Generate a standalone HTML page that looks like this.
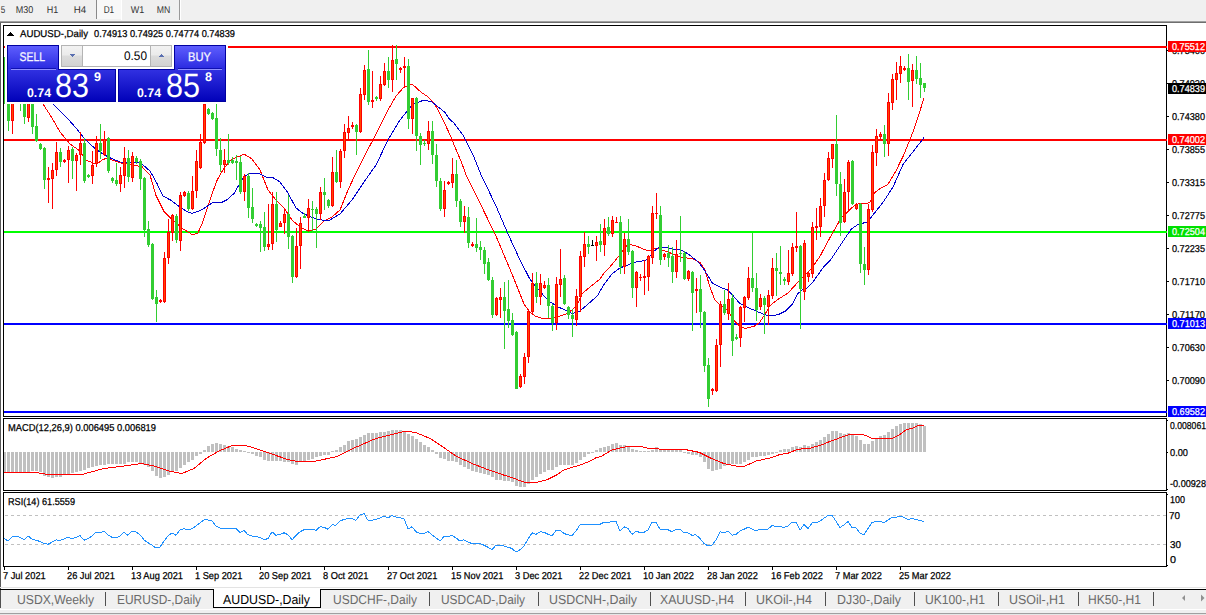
<!DOCTYPE html>
<html><head><meta charset="utf-8"><style>
html,body{margin:0;padding:0;background:#fff;}
body{width:1206px;height:615px;overflow:hidden;}
svg{display:block;font-family:"Liberation Sans", sans-serif;text-rendering:geometricPrecision;}
</style></head><body>
<svg width="1206" height="615" viewBox="0 0 1206 615" shape-rendering="crispEdges">
<rect x="0" y="0" width="1206" height="615" fill="#ffffff"/>
<rect x="0" y="0" width="1206" height="21" fill="#f0f0f0"/>
<rect x="0" y="21" width="1206" height="1" fill="#a0a0a0"/>
<rect x="0" y="22" width="1206" height="1" fill="#6e6e6e"/>
<rect x="97" y="0" width="24" height="19" fill="#f8f8f8"/>
<rect x="121" y="0" width="1" height="20" fill="#ffffff"/>
<rect x="96" y="0" width="1" height="19" fill="#8a8a8a"/>
<rect x="179" y="0" width="1" height="20" fill="#9a9a9a"/>
<rect x="180" y="0" width="1" height="20" fill="#ffffff"/>
<text x="0.7" y="13" font-size="10" fill="#333333" font-weight="normal" text-anchor="start" textLength="4.5" lengthAdjust="spacingAndGlyphs" stroke-width="0">5</text>
<text x="15.7" y="13" font-size="10" fill="#333333" font-weight="normal" text-anchor="start" textLength="17.5" lengthAdjust="spacingAndGlyphs" stroke-width="0">M30</text>
<text x="46.7" y="13" font-size="10" fill="#333333" font-weight="normal" text-anchor="start" textLength="11.5" lengthAdjust="spacingAndGlyphs" stroke-width="0">H1</text>
<text x="73.7" y="13" font-size="10" fill="#333333" font-weight="normal" text-anchor="start" textLength="12.5" lengthAdjust="spacingAndGlyphs" stroke-width="0">H4</text>
<text x="103.7" y="13" font-size="10" fill="#333333" font-weight="normal" text-anchor="start" textLength="10.5" lengthAdjust="spacingAndGlyphs" stroke-width="0">D1</text>
<text x="130.7" y="13" font-size="10" fill="#333333" font-weight="normal" text-anchor="start" textLength="13.5" lengthAdjust="spacingAndGlyphs" stroke-width="0">W1</text>
<text x="156.7" y="13" font-size="10" fill="#333333" font-weight="normal" text-anchor="start" textLength="13.5" lengthAdjust="spacingAndGlyphs" stroke-width="0">MN</text>
<rect x="0" y="23" width="1" height="585" fill="#5a5a5a"/>
<defs><clipPath id="cm"><rect x="4" y="26" width="1162" height="390"/></clipPath><clipPath id="cmacd"><rect x="4" y="419" width="1162" height="71"/></clipPath><clipPath id="crsi"><rect x="4" y="493" width="1162" height="73"/></clipPath><linearGradient id="gsell" x1="0" y1="0" x2="0" y2="1"><stop offset="0" stop-color="#6060ff"/><stop offset="1" stop-color="#2a2ae0"/></linearGradient><linearGradient id="gpan" x1="0" y1="0" x2="0" y2="1"><stop offset="0" stop-color="#3232e2"/><stop offset="1" stop-color="#0000b8"/></linearGradient><linearGradient id="gbtn" x1="0" y1="0" x2="0" y2="1"><stop offset="0" stop-color="#f2f2f2"/><stop offset="0.45" stop-color="#ebebeb"/><stop offset="0.5" stop-color="#dcdcdc"/><stop offset="1" stop-color="#d2d2d2"/></linearGradient></defs>
<g clip-path="url(#cm)">
<rect x="4" y="46" width="1162" height="2" fill="#ff0000"/>
<rect x="4" y="139" width="1162" height="2" fill="#ff0000"/>
<rect x="4" y="231" width="1162" height="2" fill="#00ff00"/>
<rect x="4" y="323" width="1162" height="2" fill="#0000ff"/>
<rect x="4" y="411" width="1162" height="2" fill="#0000ff"/>
<polyline points="43,104 52,118 60,132 70,144 80,151 86,160 93,163 97,164 102,160 107,158 112,160 121,163 135,165.5 142,166.7 150,175 156,195.6 163.9,211.3 171.7,219 182,228.2 192.5,234.7 197.7,233.4 202.9,221.7 208.1,206 213.3,190.4 217.2,180 224,168 232,159 240,156 244,154 252,159 260,170 268,190 276,200 284,208 292,220 300,227 308,231 316,229 324,221 332,217 340,210 348,190 356,173 364,157 376,134 388,110 396,96 404,87 412,84 417,88.5 422,93 427,96 432,101 437.5,108.7 442.4,118.7 450,134.8 455,147.3 461,161 466,174.6 476,195 496,236 512,274 524,304 530,312.2 535,316 542.4,318.4 552.4,318.4 559.9,316 567.3,313.5 572.3,309.7 577.3,304.8 582.2,293.6 589.7,287.3 599.7,279.3 604.6,272.4 609.6,267.4 619.6,255 628,244 636,246 648,251 656,248 668,252 680,257 692.4,258.7 700,262.4 705,270 710,287.3 714.8,299.7 721,305.9 727.3,309.7 733.5,320 738.5,325 744.7,328.6 754.6,326 759.6,322.4 764.6,315 769.6,306 777,300 788,293 800,280 812,268 820,256.3 830.4,236.8 840.8,218.5 851.3,208.1 856.5,204.2 869.5,202.9 874.7,192.5 879.9,188.6 887.7,184.7 895.5,171.7 903.3,156 913.8,130 918,117 924,98" fill="none" stroke="#ff0000" stroke-width="1" stroke-linejoin="round"/>
<polyline points="53,104 60,111 68,119 76,128 84,138 92,146 100,152 108,157 120,162 140,162.4 150,171 157,183.5 163,196 171,200.3 180,207.2 187,211.5 192,213.4 199.5,210.9 207,206.5 212,202.8 222,202.2 227,199.7 234,193.5 239,184.8 244,176 252,173 260,174 268,178 272,177 280,182 288,193 296,208 304,214 316,219 328,221 340,214 352,200 364,182 376,165 388,140 400,120 412,105 424,100 432,102 445,112.4 449,118.7 454,123 463.6,136 473.5,156 481,174.6 496,206 508,234 520,260 530,279.3 537.5,288.6 548.7,301 558.6,307.2 567.3,311 572.3,313.5 579.8,311 587.2,304.8 597.2,296 604.6,283.6 612.1,273.7 619.6,268.1 629.5,264.3 637,261.8 644.4,260.6 648,259 653,252 658,247.8 666,247.2 672,249 679,249.7 684,251.5 689,254.6 698.7,262.4 705,271 712.3,283 722.3,288 727.3,289.8 732.2,294.7 739.7,303.4 747.2,307.2 757.1,311.5 764.6,314.6 771,316 778.3,314.6 785.7,310.9 792,304.7 797,294.7 802,289.8 807,287.9 811.8,283.5 818,274.8 824.3,266.1 830.4,260.2 840.8,244.6 851.3,229 859,223.8 866.9,222.4 872.1,216 882.5,203 892.9,187.3 903.3,163.9 913.8,150.8 924,137.5" fill="none" stroke="#0000cd" stroke-width="1" stroke-linejoin="round"/>
<rect x="4" y="57" width="1" height="47" fill="#32cd32"/>
<rect x="3" y="57" width="3" height="1" fill="#32cd32"/>
<rect x="8" y="70" width="1" height="61" fill="#32cd32"/>
<rect x="7" y="80" width="3" height="41" fill="#32cd32"/>
<rect x="12" y="75" width="1" height="59" fill="#ff0000"/>
<rect x="11" y="85" width="3" height="36" fill="#ff0000"/>
<rect x="12" y="86" width="1" height="34" fill="#ff4500"/>
<rect x="16" y="55" width="1" height="45" fill="#32cd32"/>
<rect x="15" y="60" width="3" height="35" fill="#32cd32"/>
<rect x="20" y="65" width="1" height="46" fill="#32cd32"/>
<rect x="19" y="70" width="3" height="30" fill="#32cd32"/>
<rect x="24" y="85" width="1" height="39" fill="#32cd32"/>
<rect x="23" y="90" width="3" height="27" fill="#32cd32"/>
<rect x="28" y="85" width="1" height="37" fill="#ff0000"/>
<rect x="27" y="90" width="3" height="28" fill="#ff0000"/>
<rect x="28" y="91" width="1" height="26" fill="#ff4500"/>
<rect x="32" y="90" width="1" height="44" fill="#32cd32"/>
<rect x="31" y="95" width="3" height="32" fill="#32cd32"/>
<rect x="36" y="114" width="1" height="28" fill="#32cd32"/>
<rect x="35" y="126" width="3" height="15" fill="#32cd32"/>
<rect x="40" y="143" width="1" height="7" fill="#32cd32"/>
<rect x="39" y="144" width="3" height="5" fill="#32cd32"/>
<rect x="44" y="147" width="1" height="42" fill="#32cd32"/>
<rect x="43" y="148" width="3" height="32" fill="#32cd32"/>
<rect x="48" y="167" width="1" height="36" fill="#ff0000"/>
<rect x="47" y="178" width="3" height="2" fill="#ff0000"/>
<rect x="52" y="163" width="1" height="46" fill="#ff0000"/>
<rect x="51" y="170" width="3" height="9" fill="#ff0000"/>
<rect x="52" y="171" width="1" height="7" fill="#ff4500"/>
<rect x="56" y="142" width="1" height="34" fill="#ff0000"/>
<rect x="55" y="152" width="3" height="18" fill="#ff0000"/>
<rect x="56" y="153" width="1" height="16" fill="#ff4500"/>
<rect x="60" y="148" width="1" height="19" fill="#32cd32"/>
<rect x="59" y="152" width="3" height="10" fill="#32cd32"/>
<rect x="64" y="159" width="1" height="4" fill="#ff0000"/>
<rect x="63" y="160" width="3" height="2" fill="#ff0000"/>
<rect x="68" y="146" width="1" height="37" fill="#ff0000"/>
<rect x="67" y="150" width="3" height="10" fill="#ff0000"/>
<rect x="68" y="151" width="1" height="8" fill="#ff4500"/>
<rect x="72" y="147" width="1" height="32" fill="#32cd32"/>
<rect x="71" y="149" width="3" height="12" fill="#32cd32"/>
<rect x="76" y="153" width="1" height="38" fill="#ff0000"/>
<rect x="75" y="155" width="3" height="6" fill="#ff0000"/>
<rect x="76" y="156" width="1" height="4" fill="#ff4500"/>
<rect x="80" y="132" width="1" height="33" fill="#ff0000"/>
<rect x="79" y="143" width="3" height="12" fill="#ff0000"/>
<rect x="80" y="144" width="1" height="10" fill="#ff4500"/>
<rect x="84" y="138" width="1" height="45" fill="#32cd32"/>
<rect x="83" y="143" width="3" height="38" fill="#32cd32"/>
<rect x="88" y="174" width="1" height="4" fill="#32cd32"/>
<rect x="87" y="175" width="3" height="2" fill="#32cd32"/>
<rect x="92" y="151" width="1" height="33" fill="#ff0000"/>
<rect x="91" y="165" width="3" height="11" fill="#ff0000"/>
<rect x="92" y="166" width="1" height="9" fill="#ff4500"/>
<rect x="96" y="136" width="1" height="31" fill="#ff0000"/>
<rect x="95" y="143" width="3" height="21" fill="#ff0000"/>
<rect x="96" y="144" width="1" height="19" fill="#ff4500"/>
<rect x="100" y="124" width="1" height="35" fill="#32cd32"/>
<rect x="99" y="143" width="3" height="8" fill="#32cd32"/>
<rect x="104" y="131" width="1" height="25" fill="#ff0000"/>
<rect x="103" y="139" width="3" height="16" fill="#ff0000"/>
<rect x="104" y="140" width="1" height="14" fill="#ff4500"/>
<rect x="108" y="137" width="1" height="36" fill="#32cd32"/>
<rect x="107" y="138" width="3" height="33" fill="#32cd32"/>
<rect x="112" y="177" width="1" height="6" fill="#32cd32"/>
<rect x="111" y="178" width="3" height="3" fill="#32cd32"/>
<rect x="116" y="163" width="1" height="23" fill="#32cd32"/>
<rect x="115" y="180" width="3" height="4" fill="#32cd32"/>
<rect x="120" y="167" width="1" height="25" fill="#ff0000"/>
<rect x="119" y="175" width="3" height="9" fill="#ff0000"/>
<rect x="120" y="176" width="1" height="7" fill="#ff4500"/>
<rect x="124" y="147" width="1" height="41" fill="#ff0000"/>
<rect x="123" y="158" width="3" height="18" fill="#ff0000"/>
<rect x="124" y="159" width="1" height="16" fill="#ff4500"/>
<rect x="128" y="150" width="1" height="32" fill="#32cd32"/>
<rect x="127" y="158" width="3" height="19" fill="#32cd32"/>
<rect x="132" y="152" width="1" height="30" fill="#ff0000"/>
<rect x="131" y="156" width="3" height="22" fill="#ff0000"/>
<rect x="132" y="157" width="1" height="20" fill="#ff4500"/>
<rect x="136" y="156" width="1" height="8" fill="#32cd32"/>
<rect x="135" y="158" width="3" height="4" fill="#32cd32"/>
<rect x="140" y="159" width="1" height="31" fill="#32cd32"/>
<rect x="139" y="161" width="3" height="18" fill="#32cd32"/>
<rect x="144" y="177" width="1" height="60" fill="#32cd32"/>
<rect x="143" y="178" width="3" height="52" fill="#32cd32"/>
<rect x="148" y="221" width="1" height="26" fill="#32cd32"/>
<rect x="147" y="229" width="3" height="16" fill="#32cd32"/>
<rect x="152" y="243" width="1" height="57" fill="#32cd32"/>
<rect x="151" y="244" width="3" height="55" fill="#32cd32"/>
<rect x="156" y="290" width="1" height="32" fill="#32cd32"/>
<rect x="155" y="297" width="3" height="7" fill="#32cd32"/>
<rect x="160" y="299" width="1" height="4" fill="#ff0000"/>
<rect x="159" y="300" width="3" height="2" fill="#ff0000"/>
<rect x="164" y="252" width="1" height="51" fill="#ff0000"/>
<rect x="163" y="258" width="3" height="44" fill="#ff0000"/>
<rect x="164" y="259" width="1" height="42" fill="#ff4500"/>
<rect x="168" y="219" width="1" height="45" fill="#ff0000"/>
<rect x="167" y="232" width="3" height="26" fill="#ff0000"/>
<rect x="168" y="233" width="1" height="24" fill="#ff4500"/>
<rect x="172" y="214" width="1" height="27" fill="#ff0000"/>
<rect x="171" y="215" width="3" height="18" fill="#ff0000"/>
<rect x="172" y="216" width="1" height="16" fill="#ff4500"/>
<rect x="176" y="214" width="1" height="29" fill="#32cd32"/>
<rect x="175" y="216" width="3" height="24" fill="#32cd32"/>
<rect x="180" y="192" width="1" height="59" fill="#ff0000"/>
<rect x="179" y="195" width="3" height="46" fill="#ff0000"/>
<rect x="180" y="196" width="1" height="44" fill="#ff4500"/>
<rect x="184" y="191" width="1" height="6" fill="#ff0000"/>
<rect x="183" y="192" width="3" height="4" fill="#ff0000"/>
<rect x="184" y="193" width="1" height="2" fill="#ff4500"/>
<rect x="188" y="191" width="1" height="20" fill="#32cd32"/>
<rect x="187" y="193" width="3" height="16" fill="#32cd32"/>
<rect x="192" y="176" width="1" height="34" fill="#ff0000"/>
<rect x="191" y="191" width="3" height="18" fill="#ff0000"/>
<rect x="192" y="192" width="1" height="16" fill="#ff4500"/>
<rect x="196" y="150" width="1" height="48" fill="#ff0000"/>
<rect x="195" y="161" width="3" height="30" fill="#ff0000"/>
<rect x="196" y="162" width="1" height="28" fill="#ff4500"/>
<rect x="200" y="134" width="1" height="35" fill="#ff0000"/>
<rect x="199" y="142" width="3" height="26" fill="#ff0000"/>
<rect x="200" y="143" width="1" height="24" fill="#ff4500"/>
<rect x="204" y="104" width="1" height="40" fill="#ff0000"/>
<rect x="203" y="104" width="3" height="39" fill="#ff0000"/>
<rect x="204" y="105" width="1" height="37" fill="#ff4500"/>
<rect x="208" y="108" width="1" height="7" fill="#32cd32"/>
<rect x="207" y="109" width="3" height="5" fill="#32cd32"/>
<rect x="212" y="112" width="1" height="8" fill="#32cd32"/>
<rect x="211" y="113" width="3" height="6" fill="#32cd32"/>
<rect x="216" y="104" width="1" height="52" fill="#32cd32"/>
<rect x="215" y="118" width="3" height="31" fill="#32cd32"/>
<rect x="220" y="138" width="1" height="34" fill="#32cd32"/>
<rect x="219" y="150" width="3" height="15" fill="#32cd32"/>
<rect x="224" y="149" width="1" height="24" fill="#ff0000"/>
<rect x="223" y="160" width="3" height="5" fill="#ff0000"/>
<rect x="224" y="161" width="1" height="3" fill="#ff4500"/>
<rect x="228" y="134" width="1" height="31" fill="#32cd32"/>
<rect x="227" y="160" width="3" height="3" fill="#32cd32"/>
<rect x="232" y="157" width="1" height="7" fill="#32cd32"/>
<rect x="231" y="160" width="3" height="3" fill="#32cd32"/>
<rect x="236" y="155" width="1" height="25" fill="#32cd32"/>
<rect x="235" y="161" width="3" height="2" fill="#32cd32"/>
<rect x="240" y="156" width="1" height="38" fill="#32cd32"/>
<rect x="239" y="162" width="3" height="30" fill="#32cd32"/>
<rect x="244" y="174" width="1" height="27" fill="#ff0000"/>
<rect x="243" y="176" width="3" height="16" fill="#ff0000"/>
<rect x="244" y="177" width="1" height="14" fill="#ff4500"/>
<rect x="248" y="173" width="1" height="45" fill="#32cd32"/>
<rect x="247" y="176" width="3" height="32" fill="#32cd32"/>
<rect x="252" y="188" width="1" height="35" fill="#32cd32"/>
<rect x="251" y="207" width="3" height="12" fill="#32cd32"/>
<rect x="256" y="223" width="1" height="4" fill="#32cd32"/>
<rect x="255" y="224" width="3" height="2" fill="#32cd32"/>
<rect x="260" y="221" width="1" height="31" fill="#32cd32"/>
<rect x="259" y="224" width="3" height="4" fill="#32cd32"/>
<rect x="264" y="212" width="1" height="39" fill="#32cd32"/>
<rect x="263" y="227" width="3" height="20" fill="#32cd32"/>
<rect x="268" y="204" width="1" height="46" fill="#ff0000"/>
<rect x="267" y="244" width="3" height="3" fill="#ff0000"/>
<rect x="268" y="245" width="1" height="1" fill="#ff4500"/>
<rect x="272" y="192" width="1" height="58" fill="#ff0000"/>
<rect x="271" y="204" width="3" height="40" fill="#ff0000"/>
<rect x="272" y="205" width="1" height="38" fill="#ff4500"/>
<rect x="276" y="192" width="1" height="50" fill="#32cd32"/>
<rect x="275" y="204" width="3" height="26" fill="#32cd32"/>
<rect x="280" y="221" width="1" height="6" fill="#ff0000"/>
<rect x="279" y="223" width="3" height="4" fill="#ff0000"/>
<rect x="280" y="224" width="1" height="2" fill="#ff4500"/>
<rect x="284" y="208" width="1" height="26" fill="#ff0000"/>
<rect x="283" y="214" width="3" height="9" fill="#ff0000"/>
<rect x="284" y="215" width="1" height="7" fill="#ff4500"/>
<rect x="288" y="195" width="1" height="54" fill="#32cd32"/>
<rect x="287" y="214" width="3" height="23" fill="#32cd32"/>
<rect x="292" y="235" width="1" height="48" fill="#32cd32"/>
<rect x="291" y="236" width="3" height="41" fill="#32cd32"/>
<rect x="296" y="228" width="1" height="50" fill="#ff0000"/>
<rect x="295" y="246" width="3" height="31" fill="#ff0000"/>
<rect x="296" y="247" width="1" height="29" fill="#ff4500"/>
<rect x="300" y="217" width="1" height="52" fill="#ff0000"/>
<rect x="299" y="223" width="3" height="23" fill="#ff0000"/>
<rect x="300" y="224" width="1" height="21" fill="#ff4500"/>
<rect x="304" y="213" width="1" height="5" fill="#32cd32"/>
<rect x="303" y="216" width="3" height="2" fill="#32cd32"/>
<rect x="308" y="199" width="1" height="33" fill="#ff0000"/>
<rect x="307" y="208" width="3" height="10" fill="#ff0000"/>
<rect x="308" y="209" width="1" height="8" fill="#ff4500"/>
<rect x="312" y="201" width="1" height="32" fill="#32cd32"/>
<rect x="311" y="209" width="3" height="1" fill="#32cd32"/>
<rect x="316" y="207" width="1" height="41" fill="#32cd32"/>
<rect x="315" y="209" width="3" height="5" fill="#32cd32"/>
<rect x="320" y="187" width="1" height="33" fill="#ff0000"/>
<rect x="319" y="192" width="3" height="22" fill="#ff0000"/>
<rect x="320" y="193" width="1" height="20" fill="#ff4500"/>
<rect x="324" y="178" width="1" height="32" fill="#32cd32"/>
<rect x="323" y="192" width="3" height="3" fill="#32cd32"/>
<rect x="328" y="199" width="1" height="9" fill="#32cd32"/>
<rect x="327" y="200" width="3" height="6" fill="#32cd32"/>
<rect x="332" y="157" width="1" height="50" fill="#ff0000"/>
<rect x="331" y="172" width="3" height="34" fill="#ff0000"/>
<rect x="332" y="173" width="1" height="32" fill="#ff4500"/>
<rect x="336" y="150" width="1" height="33" fill="#32cd32"/>
<rect x="335" y="172" width="3" height="10" fill="#32cd32"/>
<rect x="340" y="149" width="1" height="39" fill="#ff0000"/>
<rect x="339" y="151" width="3" height="31" fill="#ff0000"/>
<rect x="340" y="152" width="1" height="29" fill="#ff4500"/>
<rect x="344" y="124" width="1" height="34" fill="#ff0000"/>
<rect x="343" y="132" width="3" height="19" fill="#ff0000"/>
<rect x="344" y="133" width="1" height="17" fill="#ff4500"/>
<rect x="348" y="116" width="1" height="23" fill="#ff0000"/>
<rect x="347" y="128" width="3" height="5" fill="#ff0000"/>
<rect x="348" y="129" width="1" height="3" fill="#ff4500"/>
<rect x="352" y="122" width="1" height="7" fill="#ff0000"/>
<rect x="351" y="125" width="3" height="2" fill="#ff0000"/>
<rect x="356" y="124" width="1" height="31" fill="#32cd32"/>
<rect x="355" y="125" width="3" height="7" fill="#32cd32"/>
<rect x="360" y="88" width="1" height="45" fill="#ff0000"/>
<rect x="359" y="94" width="3" height="38" fill="#ff0000"/>
<rect x="360" y="95" width="1" height="36" fill="#ff4500"/>
<rect x="364" y="65" width="1" height="35" fill="#ff0000"/>
<rect x="363" y="70" width="3" height="25" fill="#ff0000"/>
<rect x="364" y="71" width="1" height="23" fill="#ff4500"/>
<rect x="368" y="50" width="1" height="55" fill="#32cd32"/>
<rect x="367" y="69" width="3" height="33" fill="#32cd32"/>
<rect x="372" y="71" width="1" height="37" fill="#ff0000"/>
<rect x="371" y="100" width="3" height="2" fill="#ff0000"/>
<rect x="376" y="96" width="1" height="5" fill="#32cd32"/>
<rect x="375" y="97" width="3" height="2" fill="#32cd32"/>
<rect x="380" y="76" width="1" height="25" fill="#ff0000"/>
<rect x="379" y="84" width="3" height="15" fill="#ff0000"/>
<rect x="380" y="85" width="1" height="13" fill="#ff4500"/>
<rect x="384" y="63" width="1" height="23" fill="#ff0000"/>
<rect x="383" y="71" width="3" height="14" fill="#ff0000"/>
<rect x="384" y="72" width="1" height="12" fill="#ff4500"/>
<rect x="388" y="57" width="1" height="31" fill="#32cd32"/>
<rect x="387" y="71" width="3" height="9" fill="#32cd32"/>
<rect x="392" y="45" width="1" height="47" fill="#ff0000"/>
<rect x="391" y="60" width="3" height="20" fill="#ff0000"/>
<rect x="392" y="61" width="1" height="18" fill="#ff4500"/>
<rect x="396" y="45" width="1" height="35" fill="#32cd32"/>
<rect x="395" y="59" width="3" height="5" fill="#32cd32"/>
<rect x="400" y="67" width="1" height="6" fill="#ff0000"/>
<rect x="399" y="68" width="3" height="2" fill="#ff0000"/>
<rect x="404" y="57" width="1" height="31" fill="#ff0000"/>
<rect x="403" y="66" width="3" height="2" fill="#ff0000"/>
<rect x="408" y="59" width="1" height="70" fill="#32cd32"/>
<rect x="407" y="66" width="3" height="53" fill="#32cd32"/>
<rect x="412" y="98" width="1" height="36" fill="#ff0000"/>
<rect x="411" y="98" width="3" height="21" fill="#ff0000"/>
<rect x="412" y="99" width="1" height="19" fill="#ff4500"/>
<rect x="416" y="97" width="1" height="54" fill="#32cd32"/>
<rect x="415" y="98" width="3" height="38" fill="#32cd32"/>
<rect x="420" y="133" width="1" height="32" fill="#32cd32"/>
<rect x="419" y="136" width="3" height="9" fill="#32cd32"/>
<rect x="424" y="140" width="1" height="6" fill="#32cd32"/>
<rect x="423" y="143" width="3" height="1" fill="#32cd32"/>
<rect x="428" y="121" width="1" height="29" fill="#ff0000"/>
<rect x="427" y="131" width="3" height="13" fill="#ff0000"/>
<rect x="428" y="132" width="1" height="11" fill="#ff4500"/>
<rect x="432" y="121" width="1" height="43" fill="#32cd32"/>
<rect x="431" y="131" width="3" height="24" fill="#32cd32"/>
<rect x="436" y="144" width="1" height="43" fill="#32cd32"/>
<rect x="435" y="155" width="3" height="26" fill="#32cd32"/>
<rect x="440" y="178" width="1" height="33" fill="#32cd32"/>
<rect x="439" y="181" width="3" height="28" fill="#32cd32"/>
<rect x="444" y="181" width="1" height="36" fill="#ff0000"/>
<rect x="443" y="190" width="3" height="19" fill="#ff0000"/>
<rect x="444" y="191" width="1" height="17" fill="#ff4500"/>
<rect x="448" y="181" width="1" height="4" fill="#ff0000"/>
<rect x="447" y="182" width="3" height="2" fill="#ff0000"/>
<rect x="452" y="158" width="1" height="30" fill="#ff0000"/>
<rect x="451" y="174" width="3" height="9" fill="#ff0000"/>
<rect x="452" y="175" width="1" height="7" fill="#ff4500"/>
<rect x="456" y="160" width="1" height="47" fill="#32cd32"/>
<rect x="455" y="174" width="3" height="27" fill="#32cd32"/>
<rect x="460" y="199" width="1" height="28" fill="#32cd32"/>
<rect x="459" y="201" width="3" height="21" fill="#32cd32"/>
<rect x="464" y="206" width="1" height="27" fill="#ff0000"/>
<rect x="463" y="216" width="3" height="6" fill="#ff0000"/>
<rect x="464" y="217" width="1" height="4" fill="#ff4500"/>
<rect x="468" y="207" width="1" height="41" fill="#32cd32"/>
<rect x="467" y="217" width="3" height="26" fill="#32cd32"/>
<rect x="472" y="242" width="1" height="5" fill="#ff0000"/>
<rect x="471" y="244" width="3" height="2" fill="#ff0000"/>
<rect x="476" y="218" width="1" height="34" fill="#32cd32"/>
<rect x="475" y="244" width="3" height="4" fill="#32cd32"/>
<rect x="480" y="241" width="1" height="19" fill="#32cd32"/>
<rect x="479" y="247" width="3" height="3" fill="#32cd32"/>
<rect x="484" y="247" width="1" height="27" fill="#32cd32"/>
<rect x="483" y="250" width="3" height="14" fill="#32cd32"/>
<rect x="488" y="258" width="1" height="23" fill="#32cd32"/>
<rect x="487" y="262" width="3" height="18" fill="#32cd32"/>
<rect x="492" y="277" width="1" height="41" fill="#32cd32"/>
<rect x="491" y="280" width="3" height="35" fill="#32cd32"/>
<rect x="496" y="297" width="1" height="19" fill="#ff0000"/>
<rect x="495" y="298" width="3" height="17" fill="#ff0000"/>
<rect x="496" y="299" width="1" height="15" fill="#ff4500"/>
<rect x="500" y="288" width="1" height="30" fill="#ff0000"/>
<rect x="499" y="297" width="3" height="3" fill="#ff0000"/>
<rect x="500" y="298" width="1" height="1" fill="#ff4500"/>
<rect x="504" y="282" width="1" height="67" fill="#32cd32"/>
<rect x="503" y="297" width="3" height="14" fill="#32cd32"/>
<rect x="508" y="280" width="1" height="48" fill="#32cd32"/>
<rect x="507" y="309" width="3" height="12" fill="#32cd32"/>
<rect x="512" y="313" width="1" height="23" fill="#32cd32"/>
<rect x="511" y="320" width="3" height="15" fill="#32cd32"/>
<rect x="516" y="331" width="1" height="58" fill="#32cd32"/>
<rect x="515" y="332" width="3" height="57" fill="#32cd32"/>
<rect x="520" y="374" width="1" height="14" fill="#ff0000"/>
<rect x="519" y="376" width="3" height="11" fill="#ff0000"/>
<rect x="520" y="377" width="1" height="9" fill="#ff4500"/>
<rect x="524" y="353" width="1" height="31" fill="#ff0000"/>
<rect x="523" y="357" width="3" height="20" fill="#ff0000"/>
<rect x="524" y="358" width="1" height="18" fill="#ff4500"/>
<rect x="528" y="310" width="1" height="53" fill="#ff0000"/>
<rect x="527" y="311" width="3" height="46" fill="#ff0000"/>
<rect x="528" y="312" width="1" height="44" fill="#ff4500"/>
<rect x="532" y="273" width="1" height="40" fill="#ff0000"/>
<rect x="531" y="283" width="3" height="29" fill="#ff0000"/>
<rect x="532" y="284" width="1" height="27" fill="#ff4500"/>
<rect x="536" y="272" width="1" height="31" fill="#32cd32"/>
<rect x="535" y="283" width="3" height="14" fill="#32cd32"/>
<rect x="540" y="274" width="1" height="31" fill="#ff0000"/>
<rect x="539" y="283" width="3" height="14" fill="#ff0000"/>
<rect x="540" y="284" width="1" height="12" fill="#ff4500"/>
<rect x="544" y="281" width="1" height="8" fill="#ff0000"/>
<rect x="543" y="285" width="3" height="3" fill="#ff0000"/>
<rect x="544" y="286" width="1" height="1" fill="#ff4500"/>
<rect x="548" y="278" width="1" height="40" fill="#32cd32"/>
<rect x="547" y="285" width="3" height="21" fill="#32cd32"/>
<rect x="552" y="304" width="1" height="27" fill="#32cd32"/>
<rect x="551" y="306" width="3" height="17" fill="#32cd32"/>
<rect x="556" y="277" width="1" height="53" fill="#ff0000"/>
<rect x="555" y="284" width="3" height="39" fill="#ff0000"/>
<rect x="556" y="285" width="1" height="37" fill="#ff4500"/>
<rect x="560" y="249" width="1" height="48" fill="#ff0000"/>
<rect x="559" y="279" width="3" height="6" fill="#ff0000"/>
<rect x="560" y="280" width="1" height="4" fill="#ff4500"/>
<rect x="564" y="275" width="1" height="30" fill="#32cd32"/>
<rect x="563" y="278" width="3" height="26" fill="#32cd32"/>
<rect x="568" y="306" width="1" height="13" fill="#32cd32"/>
<rect x="567" y="307" width="3" height="8" fill="#32cd32"/>
<rect x="572" y="309" width="1" height="28" fill="#32cd32"/>
<rect x="571" y="315" width="3" height="4" fill="#32cd32"/>
<rect x="576" y="289" width="1" height="37" fill="#ff0000"/>
<rect x="575" y="296" width="3" height="24" fill="#ff0000"/>
<rect x="576" y="297" width="1" height="22" fill="#ff4500"/>
<rect x="580" y="251" width="1" height="61" fill="#ff0000"/>
<rect x="579" y="256" width="3" height="41" fill="#ff0000"/>
<rect x="580" y="257" width="1" height="39" fill="#ff4500"/>
<rect x="584" y="232" width="1" height="35" fill="#ff0000"/>
<rect x="583" y="244" width="3" height="13" fill="#ff0000"/>
<rect x="584" y="245" width="1" height="11" fill="#ff4500"/>
<rect x="588" y="236" width="1" height="18" fill="#32cd32"/>
<rect x="587" y="244" width="3" height="3" fill="#32cd32"/>
<rect x="592" y="240" width="1" height="5" fill="#000"/>
<rect x="591" y="245" width="3" height="1" fill="#000"/>
<rect x="596" y="236" width="1" height="25" fill="#ff0000"/>
<rect x="595" y="242" width="3" height="4" fill="#ff0000"/>
<rect x="596" y="243" width="1" height="2" fill="#ff4500"/>
<rect x="600" y="224" width="1" height="28" fill="#32cd32"/>
<rect x="599" y="241" width="3" height="4" fill="#32cd32"/>
<rect x="604" y="219" width="1" height="37" fill="#ff0000"/>
<rect x="603" y="228" width="3" height="17" fill="#ff0000"/>
<rect x="604" y="229" width="1" height="15" fill="#ff4500"/>
<rect x="608" y="217" width="1" height="19" fill="#32cd32"/>
<rect x="607" y="227" width="3" height="7" fill="#32cd32"/>
<rect x="612" y="216" width="1" height="21" fill="#ff0000"/>
<rect x="611" y="220" width="3" height="14" fill="#ff0000"/>
<rect x="612" y="221" width="1" height="12" fill="#ff4500"/>
<rect x="616" y="217" width="1" height="6" fill="#ff0000"/>
<rect x="615" y="222" width="3" height="1" fill="#ff0000"/>
<rect x="620" y="216" width="1" height="58" fill="#32cd32"/>
<rect x="619" y="222" width="3" height="45" fill="#32cd32"/>
<rect x="624" y="233" width="1" height="41" fill="#ff0000"/>
<rect x="623" y="239" width="3" height="28" fill="#ff0000"/>
<rect x="624" y="240" width="1" height="26" fill="#ff4500"/>
<rect x="628" y="219" width="1" height="36" fill="#32cd32"/>
<rect x="627" y="239" width="3" height="13" fill="#32cd32"/>
<rect x="632" y="250" width="1" height="48" fill="#32cd32"/>
<rect x="631" y="251" width="3" height="37" fill="#32cd32"/>
<rect x="636" y="271" width="1" height="36" fill="#ff0000"/>
<rect x="635" y="272" width="3" height="16" fill="#ff0000"/>
<rect x="636" y="273" width="1" height="14" fill="#ff4500"/>
<rect x="640" y="274" width="1" height="7" fill="#ff0000"/>
<rect x="639" y="277" width="3" height="1" fill="#ff0000"/>
<rect x="644" y="260" width="1" height="35" fill="#ff0000"/>
<rect x="643" y="276" width="3" height="2" fill="#ff0000"/>
<rect x="648" y="255" width="1" height="36" fill="#ff0000"/>
<rect x="647" y="256" width="3" height="21" fill="#ff0000"/>
<rect x="648" y="257" width="1" height="19" fill="#ff4500"/>
<rect x="652" y="206" width="1" height="58" fill="#ff0000"/>
<rect x="651" y="213" width="3" height="45" fill="#ff0000"/>
<rect x="652" y="214" width="1" height="43" fill="#ff4500"/>
<rect x="656" y="193" width="1" height="26" fill="#ff0000"/>
<rect x="655" y="213" width="3" height="1" fill="#ff0000"/>
<rect x="660" y="206" width="1" height="59" fill="#32cd32"/>
<rect x="659" y="215" width="3" height="45" fill="#32cd32"/>
<rect x="664" y="253" width="1" height="7" fill="#ff0000"/>
<rect x="663" y="254" width="3" height="3" fill="#ff0000"/>
<rect x="664" y="255" width="1" height="1" fill="#ff4500"/>
<rect x="668" y="245" width="1" height="22" fill="#32cd32"/>
<rect x="667" y="253" width="3" height="5" fill="#32cd32"/>
<rect x="672" y="247" width="1" height="36" fill="#32cd32"/>
<rect x="671" y="256" width="3" height="16" fill="#32cd32"/>
<rect x="676" y="240" width="1" height="38" fill="#ff0000"/>
<rect x="675" y="254" width="3" height="18" fill="#ff0000"/>
<rect x="676" y="255" width="1" height="16" fill="#ff4500"/>
<rect x="680" y="216" width="1" height="46" fill="#32cd32"/>
<rect x="679" y="253" width="3" height="1" fill="#32cd32"/>
<rect x="684" y="251" width="1" height="29" fill="#32cd32"/>
<rect x="683" y="253" width="3" height="26" fill="#32cd32"/>
<rect x="688" y="270" width="1" height="11" fill="#ff0000"/>
<rect x="687" y="271" width="3" height="8" fill="#ff0000"/>
<rect x="688" y="272" width="1" height="6" fill="#ff4500"/>
<rect x="692" y="271" width="1" height="60" fill="#32cd32"/>
<rect x="691" y="272" width="3" height="21" fill="#32cd32"/>
<rect x="696" y="278" width="1" height="35" fill="#ff0000"/>
<rect x="695" y="289" width="3" height="2" fill="#ff0000"/>
<rect x="700" y="275" width="1" height="53" fill="#32cd32"/>
<rect x="699" y="289" width="3" height="23" fill="#32cd32"/>
<rect x="704" y="311" width="1" height="61" fill="#32cd32"/>
<rect x="703" y="312" width="3" height="54" fill="#32cd32"/>
<rect x="708" y="358" width="1" height="49" fill="#32cd32"/>
<rect x="707" y="365" width="3" height="34" fill="#32cd32"/>
<rect x="712" y="388" width="1" height="7" fill="#ff0000"/>
<rect x="711" y="389" width="3" height="2" fill="#ff0000"/>
<rect x="716" y="339" width="1" height="53" fill="#ff0000"/>
<rect x="715" y="345" width="3" height="46" fill="#ff0000"/>
<rect x="716" y="346" width="1" height="44" fill="#ff4500"/>
<rect x="720" y="301" width="1" height="66" fill="#ff0000"/>
<rect x="719" y="304" width="3" height="41" fill="#ff0000"/>
<rect x="720" y="305" width="1" height="39" fill="#ff4500"/>
<rect x="724" y="290" width="1" height="25" fill="#32cd32"/>
<rect x="723" y="304" width="3" height="9" fill="#32cd32"/>
<rect x="728" y="283" width="1" height="37" fill="#ff0000"/>
<rect x="727" y="299" width="3" height="15" fill="#ff0000"/>
<rect x="728" y="300" width="1" height="13" fill="#ff4500"/>
<rect x="732" y="294" width="1" height="62" fill="#32cd32"/>
<rect x="731" y="298" width="3" height="43" fill="#32cd32"/>
<rect x="736" y="334" width="1" height="6" fill="#32cd32"/>
<rect x="735" y="337" width="3" height="2" fill="#32cd32"/>
<rect x="740" y="306" width="1" height="41" fill="#ff0000"/>
<rect x="739" y="307" width="3" height="31" fill="#ff0000"/>
<rect x="740" y="308" width="1" height="29" fill="#ff4500"/>
<rect x="744" y="296" width="1" height="26" fill="#ff0000"/>
<rect x="743" y="297" width="3" height="11" fill="#ff0000"/>
<rect x="744" y="298" width="1" height="9" fill="#ff4500"/>
<rect x="748" y="267" width="1" height="33" fill="#ff0000"/>
<rect x="747" y="278" width="3" height="20" fill="#ff0000"/>
<rect x="748" y="279" width="1" height="18" fill="#ff4500"/>
<rect x="752" y="233" width="1" height="59" fill="#32cd32"/>
<rect x="751" y="278" width="3" height="10" fill="#32cd32"/>
<rect x="756" y="273" width="1" height="48" fill="#32cd32"/>
<rect x="755" y="288" width="3" height="22" fill="#32cd32"/>
<rect x="760" y="294" width="1" height="16" fill="#ff0000"/>
<rect x="759" y="298" width="3" height="9" fill="#ff0000"/>
<rect x="760" y="299" width="1" height="7" fill="#ff4500"/>
<rect x="764" y="296" width="1" height="38" fill="#32cd32"/>
<rect x="763" y="298" width="3" height="7" fill="#32cd32"/>
<rect x="768" y="290" width="1" height="35" fill="#ff0000"/>
<rect x="767" y="295" width="3" height="12" fill="#ff0000"/>
<rect x="768" y="296" width="1" height="10" fill="#ff4500"/>
<rect x="772" y="258" width="1" height="41" fill="#ff0000"/>
<rect x="771" y="268" width="3" height="28" fill="#ff0000"/>
<rect x="772" y="269" width="1" height="26" fill="#ff4500"/>
<rect x="776" y="253" width="1" height="43" fill="#32cd32"/>
<rect x="775" y="268" width="3" height="3" fill="#32cd32"/>
<rect x="780" y="246" width="1" height="39" fill="#32cd32"/>
<rect x="779" y="272" width="3" height="2" fill="#32cd32"/>
<rect x="784" y="277" width="1" height="8" fill="#32cd32"/>
<rect x="783" y="279" width="3" height="2" fill="#32cd32"/>
<rect x="788" y="250" width="1" height="35" fill="#ff0000"/>
<rect x="787" y="273" width="3" height="9" fill="#ff0000"/>
<rect x="788" y="274" width="1" height="7" fill="#ff4500"/>
<rect x="792" y="243" width="1" height="33" fill="#ff0000"/>
<rect x="791" y="247" width="3" height="27" fill="#ff0000"/>
<rect x="792" y="248" width="1" height="25" fill="#ff4500"/>
<rect x="796" y="212" width="1" height="40" fill="#ff0000"/>
<rect x="795" y="246" width="3" height="2" fill="#ff0000"/>
<rect x="800" y="245" width="1" height="84" fill="#32cd32"/>
<rect x="799" y="246" width="3" height="43" fill="#32cd32"/>
<rect x="804" y="240" width="1" height="60" fill="#ff0000"/>
<rect x="803" y="243" width="3" height="49" fill="#ff0000"/>
<rect x="804" y="244" width="1" height="47" fill="#ff4500"/>
<rect x="808" y="271" width="1" height="11" fill="#ff0000"/>
<rect x="807" y="273" width="3" height="4" fill="#ff0000"/>
<rect x="808" y="274" width="1" height="2" fill="#ff4500"/>
<rect x="812" y="222" width="1" height="56" fill="#ff0000"/>
<rect x="811" y="227" width="3" height="47" fill="#ff0000"/>
<rect x="812" y="228" width="1" height="45" fill="#ff4500"/>
<rect x="816" y="208" width="1" height="32" fill="#ff0000"/>
<rect x="815" y="226" width="3" height="2" fill="#ff0000"/>
<rect x="820" y="198" width="1" height="39" fill="#ff0000"/>
<rect x="819" y="206" width="3" height="21" fill="#ff0000"/>
<rect x="820" y="207" width="1" height="19" fill="#ff4500"/>
<rect x="824" y="173" width="1" height="44" fill="#ff0000"/>
<rect x="823" y="180" width="3" height="26" fill="#ff0000"/>
<rect x="824" y="181" width="1" height="24" fill="#ff4500"/>
<rect x="828" y="152" width="1" height="29" fill="#ff0000"/>
<rect x="827" y="158" width="3" height="22" fill="#ff0000"/>
<rect x="828" y="159" width="1" height="20" fill="#ff4500"/>
<rect x="832" y="144" width="1" height="24" fill="#ff0000"/>
<rect x="831" y="144" width="3" height="15" fill="#ff0000"/>
<rect x="832" y="145" width="1" height="13" fill="#ff4500"/>
<rect x="836" y="115" width="1" height="81" fill="#32cd32"/>
<rect x="835" y="144" width="3" height="40" fill="#32cd32"/>
<rect x="840" y="172" width="1" height="64" fill="#32cd32"/>
<rect x="839" y="184" width="3" height="39" fill="#32cd32"/>
<rect x="844" y="179" width="1" height="44" fill="#ff0000"/>
<rect x="843" y="192" width="3" height="30" fill="#ff0000"/>
<rect x="844" y="193" width="1" height="28" fill="#ff4500"/>
<rect x="848" y="160" width="1" height="50" fill="#ff0000"/>
<rect x="847" y="162" width="3" height="30" fill="#ff0000"/>
<rect x="848" y="163" width="1" height="28" fill="#ff4500"/>
<rect x="852" y="160" width="1" height="45" fill="#32cd32"/>
<rect x="851" y="161" width="3" height="43" fill="#32cd32"/>
<rect x="856" y="203" width="1" height="7" fill="#ff0000"/>
<rect x="855" y="204" width="3" height="5" fill="#ff0000"/>
<rect x="856" y="205" width="1" height="3" fill="#ff4500"/>
<rect x="860" y="203" width="1" height="70" fill="#32cd32"/>
<rect x="859" y="204" width="3" height="60" fill="#32cd32"/>
<rect x="864" y="247" width="1" height="38" fill="#32cd32"/>
<rect x="863" y="264" width="3" height="6" fill="#32cd32"/>
<rect x="868" y="204" width="1" height="71" fill="#ff0000"/>
<rect x="867" y="209" width="3" height="61" fill="#ff0000"/>
<rect x="868" y="210" width="1" height="59" fill="#ff4500"/>
<rect x="872" y="145" width="1" height="67" fill="#ff0000"/>
<rect x="871" y="152" width="3" height="58" fill="#ff0000"/>
<rect x="872" y="153" width="1" height="56" fill="#ff4500"/>
<rect x="876" y="129" width="1" height="37" fill="#ff0000"/>
<rect x="875" y="136" width="3" height="17" fill="#ff0000"/>
<rect x="876" y="137" width="1" height="15" fill="#ff4500"/>
<rect x="880" y="132" width="1" height="7" fill="#ff0000"/>
<rect x="879" y="134" width="3" height="3" fill="#ff0000"/>
<rect x="880" y="135" width="1" height="1" fill="#ff4500"/>
<rect x="884" y="125" width="1" height="32" fill="#32cd32"/>
<rect x="883" y="134" width="3" height="10" fill="#32cd32"/>
<rect x="888" y="93" width="1" height="63" fill="#ff0000"/>
<rect x="887" y="102" width="3" height="42" fill="#ff0000"/>
<rect x="888" y="103" width="1" height="40" fill="#ff4500"/>
<rect x="892" y="74" width="1" height="36" fill="#ff0000"/>
<rect x="891" y="79" width="3" height="24" fill="#ff0000"/>
<rect x="892" y="80" width="1" height="22" fill="#ff4500"/>
<rect x="896" y="62" width="1" height="38" fill="#ff0000"/>
<rect x="895" y="73" width="3" height="7" fill="#ff0000"/>
<rect x="896" y="74" width="1" height="5" fill="#ff4500"/>
<rect x="900" y="56" width="1" height="27" fill="#ff0000"/>
<rect x="899" y="66" width="3" height="8" fill="#ff0000"/>
<rect x="900" y="67" width="1" height="6" fill="#ff4500"/>
<rect x="904" y="66" width="1" height="5" fill="#ff0000"/>
<rect x="903" y="68" width="3" height="2" fill="#ff0000"/>
<rect x="908" y="54" width="1" height="46" fill="#32cd32"/>
<rect x="907" y="68" width="3" height="14" fill="#32cd32"/>
<rect x="912" y="64" width="1" height="43" fill="#ff0000"/>
<rect x="911" y="70" width="3" height="11" fill="#ff0000"/>
<rect x="912" y="71" width="1" height="9" fill="#ff4500"/>
<rect x="916" y="56" width="1" height="28" fill="#32cd32"/>
<rect x="915" y="70" width="3" height="9" fill="#32cd32"/>
<rect x="920" y="63" width="1" height="35" fill="#32cd32"/>
<rect x="919" y="78" width="3" height="7" fill="#32cd32"/>
<rect x="924" y="83" width="1" height="9" fill="#32cd32"/>
<rect x="923" y="83" width="3" height="5" fill="#32cd32"/>
</g>
<g clip-path="url(#cmacd)">
<rect x="3" y="452" width="3" height="20" fill="#c0c0c0"/>
<rect x="7" y="452" width="3" height="20" fill="#c0c0c0"/>
<rect x="11" y="452" width="3" height="20" fill="#c0c0c0"/>
<rect x="15" y="452" width="3" height="20" fill="#c0c0c0"/>
<rect x="19" y="452" width="3" height="20" fill="#c0c0c0"/>
<rect x="23" y="452" width="3" height="20" fill="#c0c0c0"/>
<rect x="27" y="452" width="3" height="20" fill="#c0c0c0"/>
<rect x="31" y="452" width="3" height="19" fill="#c0c0c0"/>
<rect x="35" y="452" width="3" height="19" fill="#c0c0c0"/>
<rect x="39" y="452" width="3" height="20" fill="#c0c0c0"/>
<rect x="43" y="452" width="3" height="24" fill="#c0c0c0"/>
<rect x="47" y="452" width="3" height="25" fill="#c0c0c0"/>
<rect x="51" y="452" width="3" height="26" fill="#c0c0c0"/>
<rect x="55" y="452" width="3" height="25" fill="#c0c0c0"/>
<rect x="59" y="452" width="3" height="25" fill="#c0c0c0"/>
<rect x="63" y="452" width="3" height="23" fill="#c0c0c0"/>
<rect x="67" y="452" width="3" height="23" fill="#c0c0c0"/>
<rect x="71" y="452" width="3" height="21" fill="#c0c0c0"/>
<rect x="75" y="452" width="3" height="20" fill="#c0c0c0"/>
<rect x="79" y="452" width="3" height="19" fill="#c0c0c0"/>
<rect x="83" y="452" width="3" height="18" fill="#c0c0c0"/>
<rect x="87" y="452" width="3" height="16" fill="#c0c0c0"/>
<rect x="91" y="452" width="3" height="15" fill="#c0c0c0"/>
<rect x="95" y="452" width="3" height="14" fill="#c0c0c0"/>
<rect x="99" y="452" width="3" height="13" fill="#c0c0c0"/>
<rect x="103" y="452" width="3" height="13" fill="#c0c0c0"/>
<rect x="107" y="452" width="3" height="11.5" fill="#c0c0c0"/>
<rect x="111" y="452" width="3" height="11.5" fill="#c0c0c0"/>
<rect x="115" y="452" width="3" height="11.5" fill="#c0c0c0"/>
<rect x="119" y="452" width="3" height="11.5" fill="#c0c0c0"/>
<rect x="123" y="452" width="3" height="11.5" fill="#c0c0c0"/>
<rect x="127" y="452" width="3" height="10" fill="#c0c0c0"/>
<rect x="131" y="452" width="3" height="10" fill="#c0c0c0"/>
<rect x="135" y="452" width="3" height="10" fill="#c0c0c0"/>
<rect x="139" y="452" width="3" height="11.5" fill="#c0c0c0"/>
<rect x="143" y="452" width="3" height="13" fill="#c0c0c0"/>
<rect x="147" y="452" width="3" height="15" fill="#c0c0c0"/>
<rect x="151" y="452" width="3" height="19" fill="#c0c0c0"/>
<rect x="155" y="452" width="3" height="24" fill="#c0c0c0"/>
<rect x="159" y="452" width="3" height="26" fill="#c0c0c0"/>
<rect x="163" y="452" width="3" height="25" fill="#c0c0c0"/>
<rect x="167" y="452" width="3" height="23" fill="#c0c0c0"/>
<rect x="171" y="452" width="3" height="20" fill="#c0c0c0"/>
<rect x="175" y="452" width="3" height="19" fill="#c0c0c0"/>
<rect x="179" y="452" width="3" height="16" fill="#c0c0c0"/>
<rect x="183" y="452" width="3" height="13" fill="#c0c0c0"/>
<rect x="187" y="452" width="3" height="10" fill="#c0c0c0"/>
<rect x="191" y="452" width="3" height="8" fill="#c0c0c0"/>
<rect x="195" y="452" width="3" height="4" fill="#c0c0c0"/>
<rect x="199" y="452" width="3" height="1.5" fill="#c0c0c0"/>
<rect x="203" y="450" width="3" height="2" fill="#c0c0c0"/>
<rect x="207" y="446" width="3" height="6" fill="#c0c0c0"/>
<rect x="211" y="443.6" width="3" height="8.4" fill="#c0c0c0"/>
<rect x="215" y="443" width="3" height="9" fill="#c0c0c0"/>
<rect x="219" y="443.6" width="3" height="8.4" fill="#c0c0c0"/>
<rect x="223" y="445" width="3" height="7" fill="#c0c0c0"/>
<rect x="227" y="446" width="3" height="6" fill="#c0c0c0"/>
<rect x="231" y="447" width="3" height="5" fill="#c0c0c0"/>
<rect x="235" y="448.6" width="3" height="3.4" fill="#c0c0c0"/>
<rect x="239" y="450" width="3" height="2" fill="#c0c0c0"/>
<rect x="243" y="451" width="3" height="1" fill="#c0c0c0"/>
<rect x="247" y="452" width="3" height="1" fill="#c0c0c0"/>
<rect x="251" y="452" width="3" height="1.5" fill="#c0c0c0"/>
<rect x="255" y="452" width="3" height="4" fill="#c0c0c0"/>
<rect x="259" y="452" width="3" height="5" fill="#c0c0c0"/>
<rect x="263" y="452" width="3" height="8" fill="#c0c0c0"/>
<rect x="267" y="452" width="3" height="9" fill="#c0c0c0"/>
<rect x="271" y="452" width="3" height="9" fill="#c0c0c0"/>
<rect x="275" y="452" width="3" height="9" fill="#c0c0c0"/>
<rect x="279" y="452" width="3" height="9" fill="#c0c0c0"/>
<rect x="283" y="452" width="3" height="10" fill="#c0c0c0"/>
<rect x="287" y="452" width="3" height="10" fill="#c0c0c0"/>
<rect x="291" y="452" width="3" height="11.5" fill="#c0c0c0"/>
<rect x="295" y="452" width="3" height="13" fill="#c0c0c0"/>
<rect x="299" y="452" width="3" height="10" fill="#c0c0c0"/>
<rect x="303" y="452" width="3" height="9" fill="#c0c0c0"/>
<rect x="307" y="452" width="3" height="8" fill="#c0c0c0"/>
<rect x="311" y="452" width="3" height="6.5" fill="#c0c0c0"/>
<rect x="315" y="452" width="3" height="5" fill="#c0c0c0"/>
<rect x="319" y="452" width="3" height="4" fill="#c0c0c0"/>
<rect x="323" y="452" width="3" height="3" fill="#c0c0c0"/>
<rect x="327" y="452" width="3" height="3" fill="#c0c0c0"/>
<rect x="331" y="451" width="3" height="1" fill="#c0c0c0"/>
<rect x="335" y="450" width="3" height="2" fill="#c0c0c0"/>
<rect x="339" y="447" width="3" height="5" fill="#c0c0c0"/>
<rect x="343" y="445" width="3" height="7" fill="#c0c0c0"/>
<rect x="347" y="441" width="3" height="11" fill="#c0c0c0"/>
<rect x="351" y="440" width="3" height="12" fill="#c0c0c0"/>
<rect x="355" y="438.6" width="3" height="13.4" fill="#c0c0c0"/>
<rect x="359" y="437" width="3" height="15" fill="#c0c0c0"/>
<rect x="363" y="435" width="3" height="17" fill="#c0c0c0"/>
<rect x="367" y="433" width="3" height="19" fill="#c0c0c0"/>
<rect x="371" y="433" width="3" height="19" fill="#c0c0c0"/>
<rect x="375" y="433" width="3" height="19" fill="#c0c0c0"/>
<rect x="379" y="432.4" width="3" height="19.6" fill="#c0c0c0"/>
<rect x="383" y="431.7" width="3" height="20.3" fill="#c0c0c0"/>
<rect x="387" y="431" width="3" height="21" fill="#c0c0c0"/>
<rect x="391" y="430.4" width="3" height="21.6" fill="#c0c0c0"/>
<rect x="395" y="430" width="3" height="22" fill="#c0c0c0"/>
<rect x="399" y="430.4" width="3" height="21.6" fill="#c0c0c0"/>
<rect x="403" y="431" width="3" height="21" fill="#c0c0c0"/>
<rect x="407" y="433.7" width="3" height="18.3" fill="#c0c0c0"/>
<rect x="411" y="436" width="3" height="16" fill="#c0c0c0"/>
<rect x="415" y="438.6" width="3" height="13.4" fill="#c0c0c0"/>
<rect x="419" y="442" width="3" height="10" fill="#c0c0c0"/>
<rect x="423" y="445" width="3" height="7" fill="#c0c0c0"/>
<rect x="427" y="447" width="3" height="5" fill="#c0c0c0"/>
<rect x="431" y="450" width="3" height="2" fill="#c0c0c0"/>
<rect x="435" y="452" width="3" height="1.5" fill="#c0c0c0"/>
<rect x="439" y="452" width="3" height="6" fill="#c0c0c0"/>
<rect x="443" y="452" width="3" height="6.7" fill="#c0c0c0"/>
<rect x="447" y="452" width="3" height="8.5" fill="#c0c0c0"/>
<rect x="451" y="452" width="3" height="8.5" fill="#c0c0c0"/>
<rect x="455" y="452" width="3" height="10.4" fill="#c0c0c0"/>
<rect x="459" y="452" width="3" height="12.9" fill="#c0c0c0"/>
<rect x="463" y="452" width="3" height="14.7" fill="#c0c0c0"/>
<rect x="467" y="452" width="3" height="16.6" fill="#c0c0c0"/>
<rect x="471" y="452" width="3" height="18.5" fill="#c0c0c0"/>
<rect x="475" y="452" width="3" height="19.7" fill="#c0c0c0"/>
<rect x="479" y="452" width="3" height="20.6" fill="#c0c0c0"/>
<rect x="483" y="452" width="3" height="21.6" fill="#c0c0c0"/>
<rect x="487" y="452" width="3" height="23.4" fill="#c0c0c0"/>
<rect x="491" y="452" width="3" height="25.3" fill="#c0c0c0"/>
<rect x="495" y="452" width="3" height="27.8" fill="#c0c0c0"/>
<rect x="499" y="452" width="3" height="27.8" fill="#c0c0c0"/>
<rect x="503" y="452" width="3" height="29" fill="#c0c0c0"/>
<rect x="507" y="452" width="3" height="29" fill="#c0c0c0"/>
<rect x="511" y="452" width="3" height="29.7" fill="#c0c0c0"/>
<rect x="515" y="452" width="3" height="34" fill="#c0c0c0"/>
<rect x="519" y="452" width="3" height="34.6" fill="#c0c0c0"/>
<rect x="523" y="452" width="3" height="34.6" fill="#c0c0c0"/>
<rect x="527" y="452" width="3" height="31.5" fill="#c0c0c0"/>
<rect x="531" y="452" width="3" height="27.8" fill="#c0c0c0"/>
<rect x="535" y="452" width="3" height="24.7" fill="#c0c0c0"/>
<rect x="539" y="452" width="3" height="21.6" fill="#c0c0c0"/>
<rect x="543" y="452" width="3" height="19.7" fill="#c0c0c0"/>
<rect x="547" y="452" width="3" height="17.9" fill="#c0c0c0"/>
<rect x="551" y="452" width="3" height="17.9" fill="#c0c0c0"/>
<rect x="555" y="452" width="3" height="15.4" fill="#c0c0c0"/>
<rect x="559" y="452" width="3" height="12.9" fill="#c0c0c0"/>
<rect x="563" y="452" width="3" height="12.9" fill="#c0c0c0"/>
<rect x="567" y="452" width="3" height="12.9" fill="#c0c0c0"/>
<rect x="571" y="452" width="3" height="12.9" fill="#c0c0c0"/>
<rect x="575" y="452" width="3" height="11" fill="#c0c0c0"/>
<rect x="579" y="452" width="3" height="7.9" fill="#c0c0c0"/>
<rect x="583" y="452" width="3" height="4.8" fill="#c0c0c0"/>
<rect x="587" y="452" width="3" height="1.7" fill="#c0c0c0"/>
<rect x="591" y="452" width="3" height="1" fill="#c0c0c0"/>
<rect x="595" y="449.8" width="3" height="2.2" fill="#c0c0c0"/>
<rect x="599" y="447.8" width="3" height="4.2" fill="#c0c0c0"/>
<rect x="603" y="446.8" width="3" height="5.2" fill="#c0c0c0"/>
<rect x="607" y="446" width="3" height="6" fill="#c0c0c0"/>
<rect x="611" y="444.4" width="3" height="7.6" fill="#c0c0c0"/>
<rect x="615" y="443" width="3" height="9" fill="#c0c0c0"/>
<rect x="619" y="445" width="3" height="7" fill="#c0c0c0"/>
<rect x="623" y="445.3" width="3" height="6.7" fill="#c0c0c0"/>
<rect x="627" y="447.3" width="3" height="4.7" fill="#c0c0c0"/>
<rect x="631" y="449.3" width="3" height="2.7" fill="#c0c0c0"/>
<rect x="635" y="449.8" width="3" height="2.2" fill="#c0c0c0"/>
<rect x="639" y="451" width="3" height="1" fill="#c0c0c0"/>
<rect x="643" y="451" width="3" height="1" fill="#c0c0c0"/>
<rect x="647" y="451" width="3" height="1" fill="#c0c0c0"/>
<rect x="651" y="449.8" width="3" height="2.2" fill="#c0c0c0"/>
<rect x="655" y="447.3" width="3" height="4.7" fill="#c0c0c0"/>
<rect x="659" y="448.6" width="3" height="3.4" fill="#c0c0c0"/>
<rect x="663" y="448.6" width="3" height="3.4" fill="#c0c0c0"/>
<rect x="667" y="449.3" width="3" height="2.7" fill="#c0c0c0"/>
<rect x="671" y="449.8" width="3" height="2.2" fill="#c0c0c0"/>
<rect x="675" y="449.8" width="3" height="2.2" fill="#c0c0c0"/>
<rect x="679" y="450.3" width="3" height="1.7" fill="#c0c0c0"/>
<rect x="683" y="452" width="3" height="1" fill="#c0c0c0"/>
<rect x="687" y="452" width="3" height="1.6" fill="#c0c0c0"/>
<rect x="691" y="452" width="3" height="2.8" fill="#c0c0c0"/>
<rect x="695" y="452" width="3" height="3.3" fill="#c0c0c0"/>
<rect x="699" y="452" width="3" height="5.3" fill="#c0c0c0"/>
<rect x="703" y="452" width="3" height="10.3" fill="#c0c0c0"/>
<rect x="707" y="452" width="3" height="16.5" fill="#c0c0c0"/>
<rect x="711" y="452" width="3" height="19" fill="#c0c0c0"/>
<rect x="715" y="452" width="3" height="18.2" fill="#c0c0c0"/>
<rect x="719" y="452" width="3" height="16.5" fill="#c0c0c0"/>
<rect x="723" y="452" width="3" height="14" fill="#c0c0c0"/>
<rect x="727" y="452" width="3" height="12.8" fill="#c0c0c0"/>
<rect x="731" y="452" width="3" height="12.3" fill="#c0c0c0"/>
<rect x="735" y="452" width="3" height="11.5" fill="#c0c0c0"/>
<rect x="739" y="452" width="3" height="11.5" fill="#c0c0c0"/>
<rect x="743" y="452" width="3" height="10.3" fill="#c0c0c0"/>
<rect x="747" y="452" width="3" height="7.8" fill="#c0c0c0"/>
<rect x="751" y="452" width="3" height="5.3" fill="#c0c0c0"/>
<rect x="755" y="452" width="3" height="5" fill="#c0c0c0"/>
<rect x="759" y="452" width="3" height="4" fill="#c0c0c0"/>
<rect x="763" y="452" width="3" height="4" fill="#c0c0c0"/>
<rect x="767" y="452" width="3" height="3.3" fill="#c0c0c0"/>
<rect x="771" y="452" width="3" height="1.6" fill="#c0c0c0"/>
<rect x="775" y="452" width="3" height="1" fill="#c0c0c0"/>
<rect x="779" y="450.2" width="3" height="1.8" fill="#c0c0c0"/>
<rect x="783" y="449" width="3" height="3" fill="#c0c0c0"/>
<rect x="787" y="449" width="3" height="3" fill="#c0c0c0"/>
<rect x="791" y="447" width="3" height="5" fill="#c0c0c0"/>
<rect x="795" y="446" width="3" height="6" fill="#c0c0c0"/>
<rect x="799" y="447" width="3" height="5" fill="#c0c0c0"/>
<rect x="803" y="445" width="3" height="7" fill="#c0c0c0"/>
<rect x="807" y="446" width="3" height="6" fill="#c0c0c0"/>
<rect x="811" y="444" width="3" height="8" fill="#c0c0c0"/>
<rect x="815" y="442" width="3" height="10" fill="#c0c0c0"/>
<rect x="819" y="439.9" width="3" height="12.1" fill="#c0c0c0"/>
<rect x="823" y="436.9" width="3" height="15.1" fill="#c0c0c0"/>
<rect x="827" y="434" width="3" height="18" fill="#c0c0c0"/>
<rect x="831" y="431" width="3" height="21" fill="#c0c0c0"/>
<rect x="835" y="431" width="3" height="21" fill="#c0c0c0"/>
<rect x="839" y="432.9" width="3" height="19.1" fill="#c0c0c0"/>
<rect x="843" y="434" width="3" height="18" fill="#c0c0c0"/>
<rect x="847" y="432.9" width="3" height="19.1" fill="#c0c0c0"/>
<rect x="851" y="434.6" width="3" height="17.4" fill="#c0c0c0"/>
<rect x="855" y="436" width="3" height="16" fill="#c0c0c0"/>
<rect x="859" y="440" width="3" height="12" fill="#c0c0c0"/>
<rect x="863" y="444" width="3" height="8" fill="#c0c0c0"/>
<rect x="867" y="444" width="3" height="8" fill="#c0c0c0"/>
<rect x="871" y="441" width="3" height="11" fill="#c0c0c0"/>
<rect x="875" y="438.2" width="3" height="13.8" fill="#c0c0c0"/>
<rect x="879" y="436" width="3" height="16" fill="#c0c0c0"/>
<rect x="883" y="435" width="3" height="17" fill="#c0c0c0"/>
<rect x="887" y="432" width="3" height="20" fill="#c0c0c0"/>
<rect x="891" y="429" width="3" height="23" fill="#c0c0c0"/>
<rect x="895" y="426" width="3" height="26" fill="#c0c0c0"/>
<rect x="899" y="424" width="3" height="28" fill="#c0c0c0"/>
<rect x="903" y="423" width="3" height="29" fill="#c0c0c0"/>
<rect x="907" y="423" width="3" height="29" fill="#c0c0c0"/>
<rect x="911" y="423" width="3" height="29" fill="#c0c0c0"/>
<rect x="915" y="423" width="3" height="29" fill="#c0c0c0"/>
<rect x="919" y="424" width="3" height="28" fill="#c0c0c0"/>
<rect x="923" y="425.8" width="3" height="26.2" fill="#c0c0c0"/>
<polyline points="3,472.7 25,472 32,472 50,474.7 80,475 104,468.5 124,466 142,463.5 154,466 169,471 182,473.5 194,468.5 206,458.5 219,451 231,446 244,445 256,448.6 274,454.8 288.6,459.8 298.5,461.8 316,461 336,456.8 355.7,447.3 375.6,438.6 395.5,433.7 405.5,431.2 415.4,432.4 430.3,438.6 440,445 445.3,448.6 456.2,456.2 472.3,463.6 488.5,469.9 504.7,475.4 514.6,478.6 524.6,482.3 537,482.3 547,479.8 557,474.8 563,470.5 571.8,467.4 580.5,464.9 590,461.1 596,457.8 602,456 612,449.8 626.8,446.6 641.8,446.6 649.2,448.6 666.6,449.3 686.5,449.8 699,452.3 711.4,458.5 723.8,463.5 738.8,466.5 744,466.5 756.2,461 771,457.8 780,454.5 788.3,453.1 796.6,449.8 804.9,448.2 810,448.2 821.5,444.9 829.8,441.5 838,438.5 848,434.9 853,434.4 861.3,434.4 866.2,435.7 871.2,438.2 882.8,438.5 892.8,438.2 899.4,434.9 906,430 912.7,428 917.6,425.8 922.6,425.3 924,425.8" fill="none" stroke="#ff0000" stroke-width="1" stroke-linejoin="round"/>
</g>
<g clip-path="url(#crsi)">
<line x1="4" y1="515.5" x2="1166" y2="515.5" stroke="#c0c0c0" stroke-width="1" stroke-dasharray="3,3" stroke-dashoffset="-1"/>
<line x1="4" y1="544.5" x2="1166" y2="544.5" stroke="#c0c0c0" stroke-width="1" stroke-dasharray="3,3" stroke-dashoffset="-1"/>
<polyline points="4,538.5 8,541 12,536.8 16,536 20,537.3 24,539.8 28,536 32,539 36,540.2 40,541.5 44,543.5 48,544.2 52,542.2 56,539.8 60,540.5 64,539 68,537.3 72,539 76,537.3 80,535.5 84,540.2 88,538.5 92,536 96,532.3 100,532.8 104,531 108,534.8 112,537.3 116,537.8 120,536 124,532.3 128,535.3 132,531 136,531.8 140,534.8 144,539.8 148,542.7 152,545.2 156,548 160,547.2 164,541 168,536 172,533 176,535.3 180,529.8 184,528.6 188,529.8 192,528.6 196,526 200,522.8 204,519.9 208,519.9 212,521 216,526 220,528 224,528.6 228,528.6 232,528.6 236,528.6 240,532.3 244,530.5 248,534.8 252,536 256,536.8 260,537.3 264,539.8 268,538.5 272,531.8 276,535.3 280,534.3 284,532.8 288,534.8 292,539.8 296,535.5 300,531.8 304,529.8 308,529.3 312,529.3 316,530.3 320,526.8 324,527.3 328,529.3 332,524.8 336,525.3 340,521.1 344,519.4 348,518.6 352,518.6 356,520.3 360,514.9 364,513.6 368,520.3 372,520.3 376,519.4 380,517.9 384,515.9 388,517.9 392,515.6 396,516.9 400,517.9 404,518.6 408,529 412,526.8 416,531.8 420,533.5 424,533.5 428,531.5 432,534.8 436,537.8 440,541 444,536.5 448,536.5 452,535.5 456,538 460,541 464,539.8 468,542.2 472,543.5 476,543.5 480,543.5 484,545.2 488,547.2 492,549.7 496,545.2 500,545.2 504,546 508,547.2 512,548.5 516,552.2 520,549.7 524,546 528,539.3 532,532.8 536,534.3 540,531.8 544,532.3 548,534.3 552,536 556,530.3 560,530.3 564,533.5 568,534.8 572,535.5 576,531 580,524.8 584,524.3 588,524.3 592,524.3 596,524.3 600,524.3 604,522.3 608,523 612,521.3 616,521.3 620,531 624,526.8 628,528.6 632,534.3 636,531.5 640,532.3 644,532.3 648,529.8 652,522.3 656,522.3 660,529.3 664,529.3 668,529.8 672,531.8 676,529.3 680,529.3 684,532.8 688,532.8 692,535.3 696,534.8 700,538.5 704,543.5 708,546 712,545.2 716,539.8 720,531.8 724,532.8 728,531 732,535.3 736,534.3 740,531 744,529.3 748,527.3 752,529 756,531 760,529.3 764,529.8 768,529 772,525.6 776,526.6 780,526.6 784,527.3 788,526 792,522.3 796,522.3 800,530.3 804,524.3 808,528.6 812,523 816,522.8 820,521.1 824,518.1 828,515.6 832,515.4 836,521.2 840,527.5 844,524.9 848,521.5 852,527.5 856,527.7 860,533.3 864,534.5 868,528.4 872,522.5 876,521.5 880,521.5 884,522.5 888,520 892,517.6 896,517.3 900,516.3 904,517.3 908,519.6 912,518.3 916,519.6 920,520.6 924,521.5" fill="none" stroke="#1e90ff" stroke-width="1" stroke-linejoin="round"/>
</g>
<rect x="3" y="25" width="1164" height="1" fill="#000"/>
<rect x="3" y="416" width="1164" height="1" fill="#000"/>
<rect x="3" y="25" width="1" height="392" fill="#000"/>
<rect x="1166" y="25" width="1" height="392" fill="#000"/>
<rect x="3" y="418" width="1164" height="1" fill="#000"/>
<rect x="3" y="490" width="1164" height="1" fill="#000"/>
<rect x="3" y="418" width="1" height="73" fill="#000"/>
<rect x="1166" y="418" width="1" height="73" fill="#000"/>
<rect x="3" y="492" width="1164" height="1" fill="#000"/>
<rect x="3" y="566" width="1164" height="1" fill="#000"/>
<rect x="3" y="492" width="1" height="75" fill="#000"/>
<rect x="1166" y="492" width="1" height="75" fill="#000"/>
<rect x="1166" y="46" width="1" height="2" fill="#ff0000"/>
<rect x="1166" y="139" width="1" height="2" fill="#ff0000"/>
<rect x="1166" y="231" width="1" height="2" fill="#00ff00"/>
<rect x="1166" y="323" width="1" height="2" fill="#0000ff"/>
<rect x="1166" y="411" width="1" height="2" fill="#0000ff"/>
<polygon points="7,36 14,36 10.5,32" fill="#000"/>
<text x="20" y="37" font-size="10" fill="#000" font-weight="normal" text-anchor="start" textLength="68" lengthAdjust="spacingAndGlyphs" stroke="#000" stroke-width="0.25">AUDUSD-,Daily</text>
<text x="94" y="37" font-size="10" fill="#000" font-weight="normal" text-anchor="start" textLength="141" lengthAdjust="spacingAndGlyphs" stroke="#000" stroke-width="0.25">0.74913 0.74925 0.74774 0.74839</text>
<text x="8" y="431" font-size="10" fill="#000" font-weight="normal" text-anchor="start" textLength="148" lengthAdjust="spacingAndGlyphs" stroke="#000" stroke-width="0.25">MACD(12,26,9) 0.006495 0.006819</text>
<text x="8" y="505" font-size="10" fill="#000" font-weight="normal" text-anchor="start" textLength="67" lengthAdjust="spacingAndGlyphs" stroke="#000" stroke-width="0.25">RSI(14) 61.5559</text>
<rect x="5" y="43" width="223" height="61" fill="#ffffff"/>
<rect x="7" y="45" width="52" height="24" fill="url(#gsell)"/>
<rect x="7" y="69" width="109" height="33" fill="url(#gpan)"/>
<rect x="118" y="69" width="108" height="33" fill="url(#gpan)"/>
<rect x="174" y="45" width="52" height="24" fill="url(#gsell)"/>
<path d="M7.5,101.5 V45.5 H58.5 V69.5 H115.5 V101.5 Z" fill="none" stroke="#0000a0" stroke-width="1"/>
<path d="M118.5,101.5 V69.5 H174.5 V45.5 H225.5 V101.5 Z" fill="none" stroke="#0000a0" stroke-width="1"/>
<rect x="11" y="68" width="45" height="1" fill="#1010b0"/>
<rect x="178" y="68" width="44" height="1" fill="#1010b0"/>
<rect x="11" y="69" width="45" height="1" fill="#9090ff"/>
<rect x="178" y="69" width="44" height="1" fill="#9090ff"/>
<rect x="59" y="45" width="115" height="24" fill="#ffffff"/>
<rect x="61" y="45" width="111" height="1" fill="#b4b4b4"/>
<rect x="61" y="66" width="111" height="1" fill="#b4b4b4"/>
<rect x="61" y="45" width="1" height="22" fill="#b4b4b4"/>
<rect x="171" y="45" width="1" height="22" fill="#b4b4b4"/>
<rect x="62" y="46" width="20" height="20" fill="url(#gbtn)"/>
<rect x="82" y="46" width="1" height="20" fill="#b4b4b4"/>
<rect x="151" y="46" width="20" height="20" fill="url(#gbtn)"/>
<rect x="150" y="46" width="1" height="20" fill="#b4b4b4"/>
<polygon points="69,54 75,54 72,57" fill="#5a6fb0"/>
<polygon points="158,57 164,57 161,54" fill="#5a6fb0"/>
<text x="124" y="60" font-size="12.5" fill="#000" font-weight="normal" text-anchor="start" textLength="23" lengthAdjust="spacingAndGlyphs">0.50</text>
<text x="19.5" y="61" font-size="12.5" fill="#f4f4ff" font-weight="normal" text-anchor="start" textLength="25.5" lengthAdjust="spacingAndGlyphs" stroke="#f4f4ff" stroke-width="0.3">SELL</text>
<text x="188" y="61" font-size="12.5" fill="#f4f4ff" font-weight="normal" text-anchor="start" textLength="23" lengthAdjust="spacingAndGlyphs" stroke="#f4f4ff" stroke-width="0.3">BUY</text>
<text x="27" y="97" font-size="12.5" fill="#fff" font-weight="bold" text-anchor="start" textLength="24" lengthAdjust="spacingAndGlyphs">0.74</text>
<text x="55" y="96.6" font-size="33.8" fill="#fff" font-weight="normal" text-anchor="start" textLength="34" lengthAdjust="spacingAndGlyphs">83</text>
<text x="94" y="81" font-size="12.5" fill="#fff" font-weight="bold" text-anchor="start" textLength="7" lengthAdjust="spacingAndGlyphs">9</text>
<text x="137" y="97" font-size="12.5" fill="#fff" font-weight="bold" text-anchor="start" textLength="24" lengthAdjust="spacingAndGlyphs">0.74</text>
<text x="166" y="96.6" font-size="33.8" fill="#fff" font-weight="normal" text-anchor="start" textLength="34" lengthAdjust="spacingAndGlyphs">85</text>
<text x="205" y="81" font-size="12.5" fill="#fff" font-weight="bold" text-anchor="start" textLength="7" lengthAdjust="spacingAndGlyphs">8</text>
<rect x="1167" y="50" width="2" height="1" fill="#000"/>
<text x="1172" y="54" font-size="10" fill="#000" font-weight="normal" text-anchor="start" textLength="33" lengthAdjust="spacingAndGlyphs" stroke="#000" stroke-width="0.25">0.75460</text>
<rect x="1167" y="83" width="2" height="1" fill="#000"/>
<text x="1172" y="87" font-size="10" fill="#000" font-weight="normal" text-anchor="start" textLength="33" lengthAdjust="spacingAndGlyphs" stroke="#000" stroke-width="0.25">0.74920</text>
<rect x="1167" y="116" width="2" height="1" fill="#000"/>
<text x="1172" y="120" font-size="10" fill="#000" font-weight="normal" text-anchor="start" textLength="33" lengthAdjust="spacingAndGlyphs" stroke="#000" stroke-width="0.25">0.74380</text>
<rect x="1167" y="149" width="2" height="1" fill="#000"/>
<text x="1172" y="153" font-size="10" fill="#000" font-weight="normal" text-anchor="start" textLength="33" lengthAdjust="spacingAndGlyphs" stroke="#000" stroke-width="0.25">0.73855</text>
<rect x="1167" y="182" width="2" height="1" fill="#000"/>
<text x="1172" y="186" font-size="10" fill="#000" font-weight="normal" text-anchor="start" textLength="33" lengthAdjust="spacingAndGlyphs" stroke="#000" stroke-width="0.25">0.73315</text>
<rect x="1167" y="215" width="2" height="1" fill="#000"/>
<text x="1172" y="219" font-size="10" fill="#000" font-weight="normal" text-anchor="start" textLength="33" lengthAdjust="spacingAndGlyphs" stroke="#000" stroke-width="0.25">0.72775</text>
<rect x="1167" y="248" width="2" height="1" fill="#000"/>
<text x="1172" y="252" font-size="10" fill="#000" font-weight="normal" text-anchor="start" textLength="33" lengthAdjust="spacingAndGlyphs" stroke="#000" stroke-width="0.25">0.72235</text>
<rect x="1167" y="281" width="2" height="1" fill="#000"/>
<text x="1172" y="285" font-size="10" fill="#000" font-weight="normal" text-anchor="start" textLength="33" lengthAdjust="spacingAndGlyphs" stroke="#000" stroke-width="0.25">0.71710</text>
<rect x="1167" y="314" width="2" height="1" fill="#000"/>
<text x="1172" y="318" font-size="10" fill="#000" font-weight="normal" text-anchor="start" textLength="33" lengthAdjust="spacingAndGlyphs" stroke="#000" stroke-width="0.25">0.71170</text>
<rect x="1167" y="347" width="2" height="1" fill="#000"/>
<text x="1172" y="351" font-size="10" fill="#000" font-weight="normal" text-anchor="start" textLength="33" lengthAdjust="spacingAndGlyphs" stroke="#000" stroke-width="0.25">0.70630</text>
<rect x="1167" y="380" width="2" height="1" fill="#000"/>
<text x="1172" y="384" font-size="10" fill="#000" font-weight="normal" text-anchor="start" textLength="33" lengthAdjust="spacingAndGlyphs" stroke="#000" stroke-width="0.25">0.70090</text>
<rect x="1168" y="41" width="38" height="11" fill="#ff0000"/>
<text x="1172" y="50" font-size="10" fill="#fff" font-weight="normal" text-anchor="start" textLength="33" lengthAdjust="spacingAndGlyphs" stroke="#fff" stroke-width="0.25">0.75512</text>
<rect x="1168" y="83" width="38" height="11" fill="#000000"/>
<text x="1172" y="92" font-size="10" fill="#fff" font-weight="normal" text-anchor="start" textLength="33" lengthAdjust="spacingAndGlyphs" stroke="#fff" stroke-width="0.25">0.74839</text>
<rect x="1168" y="134" width="38" height="11" fill="#ff0000"/>
<text x="1172" y="143" font-size="10" fill="#fff" font-weight="normal" text-anchor="start" textLength="33" lengthAdjust="spacingAndGlyphs" stroke="#fff" stroke-width="0.25">0.74002</text>
<rect x="1168" y="226" width="38" height="11" fill="#00e000"/>
<text x="1172" y="235" font-size="10" fill="#fff" font-weight="normal" text-anchor="start" textLength="33" lengthAdjust="spacingAndGlyphs" stroke="#fff" stroke-width="0.25">0.72504</text>
<rect x="1168" y="318" width="38" height="11" fill="#0000ff"/>
<text x="1172" y="327" font-size="10" fill="#fff" font-weight="normal" text-anchor="start" textLength="33" lengthAdjust="spacingAndGlyphs" stroke="#fff" stroke-width="0.25">0.71013</text>
<rect x="1168" y="406" width="38" height="11" fill="#0000ff"/>
<text x="1172" y="415" font-size="10" fill="#fff" font-weight="normal" text-anchor="start" textLength="33" lengthAdjust="spacingAndGlyphs" stroke="#fff" stroke-width="0.25">0.69582</text>
<rect x="1167" y="420" width="1" height="1" fill="#000"/>
<text x="1170" y="429" font-size="10" fill="#000" font-weight="normal" text-anchor="start" textLength="36" lengthAdjust="spacingAndGlyphs" stroke="#000" stroke-width="0.25">0.008061</text>
<rect x="1167" y="452" width="1" height="1" fill="#000"/>
<text x="1170" y="456" font-size="10" fill="#000" font-weight="normal" text-anchor="start" textLength="18" lengthAdjust="spacingAndGlyphs" stroke="#000" stroke-width="0.25">0.00</text>
<rect x="1167" y="489" width="1" height="1" fill="#000"/>
<text x="1170" y="487" font-size="10" fill="#000" font-weight="normal" text-anchor="start" textLength="36" lengthAdjust="spacingAndGlyphs" stroke="#000" stroke-width="0.25">-0.00928</text>
<rect x="1167" y="494" width="1" height="1" fill="#000"/>
<text x="1170" y="503" font-size="10" fill="#000" font-weight="normal" text-anchor="start" textLength="15" lengthAdjust="spacingAndGlyphs" stroke="#000" stroke-width="0.25">100</text>
<text x="1169" y="519" font-size="10" fill="#000" font-weight="normal" text-anchor="start" textLength="11" lengthAdjust="spacingAndGlyphs" stroke="#000" stroke-width="0.25">70</text>
<text x="1170" y="548" font-size="10" fill="#000" font-weight="normal" text-anchor="start" textLength="11" lengthAdjust="spacingAndGlyphs" stroke="#000" stroke-width="0.25">30</text>
<rect x="1167" y="565" width="1" height="1" fill="#000"/>
<text x="1170" y="563" font-size="10" fill="#000" font-weight="normal" text-anchor="start" textLength="6" lengthAdjust="spacingAndGlyphs" stroke="#000" stroke-width="0.25">0</text>
<rect x="4" y="567" width="1" height="3" fill="#000"/>
<text x="3" y="579" font-size="10" fill="#000" font-weight="normal" text-anchor="start" textLength="42.7" lengthAdjust="spacingAndGlyphs" stroke="#000" stroke-width="0.25">7 Jul 2021</text>
<rect x="68" y="567" width="1" height="3" fill="#000"/>
<text x="67" y="579" font-size="10" fill="#000" font-weight="normal" text-anchor="start" textLength="47.8" lengthAdjust="spacingAndGlyphs" stroke="#000" stroke-width="0.25">26 Jul 2021</text>
<rect x="132" y="567" width="1" height="3" fill="#000"/>
<text x="131" y="579" font-size="10" fill="#000" font-weight="normal" text-anchor="start" textLength="52.0" lengthAdjust="spacingAndGlyphs" stroke="#000" stroke-width="0.25">13 Aug 2021</text>
<rect x="196" y="567" width="1" height="3" fill="#000"/>
<text x="195" y="579" font-size="10" fill="#000" font-weight="normal" text-anchor="start" textLength="47.3" lengthAdjust="spacingAndGlyphs" stroke="#000" stroke-width="0.25">1 Sep 2021</text>
<rect x="260" y="567" width="1" height="3" fill="#000"/>
<text x="259" y="579" font-size="10" fill="#000" font-weight="normal" text-anchor="start" textLength="52.5" lengthAdjust="spacingAndGlyphs" stroke="#000" stroke-width="0.25">20 Sep 2021</text>
<rect x="324" y="567" width="1" height="3" fill="#000"/>
<text x="323" y="579" font-size="10" fill="#000" font-weight="normal" text-anchor="start" textLength="45.3" lengthAdjust="spacingAndGlyphs" stroke="#000" stroke-width="0.25">8 Oct 2021</text>
<rect x="388" y="567" width="1" height="3" fill="#000"/>
<text x="387" y="579" font-size="10" fill="#000" font-weight="normal" text-anchor="start" textLength="50.4" lengthAdjust="spacingAndGlyphs" stroke="#000" stroke-width="0.25">27 Oct 2021</text>
<rect x="452" y="567" width="1" height="3" fill="#000"/>
<text x="451" y="579" font-size="10" fill="#000" font-weight="normal" text-anchor="start" textLength="52.4" lengthAdjust="spacingAndGlyphs" stroke="#000" stroke-width="0.25">15 Nov 2021</text>
<rect x="516" y="567" width="1" height="3" fill="#000"/>
<text x="515" y="579" font-size="10" fill="#000" font-weight="normal" text-anchor="start" textLength="47.3" lengthAdjust="spacingAndGlyphs" stroke="#000" stroke-width="0.25">3 Dec 2021</text>
<rect x="580" y="567" width="1" height="3" fill="#000"/>
<text x="579" y="579" font-size="10" fill="#000" font-weight="normal" text-anchor="start" textLength="52.4" lengthAdjust="spacingAndGlyphs" stroke="#000" stroke-width="0.25">22 Dec 2021</text>
<rect x="644" y="567" width="1" height="3" fill="#000"/>
<text x="643" y="579" font-size="10" fill="#000" font-weight="normal" text-anchor="start" textLength="50.9" lengthAdjust="spacingAndGlyphs" stroke="#000" stroke-width="0.25">10 Jan 2022</text>
<rect x="708" y="567" width="1" height="3" fill="#000"/>
<text x="707" y="579" font-size="10" fill="#000" font-weight="normal" text-anchor="start" textLength="50.9" lengthAdjust="spacingAndGlyphs" stroke="#000" stroke-width="0.25">28 Jan 2022</text>
<rect x="772" y="567" width="1" height="3" fill="#000"/>
<text x="771" y="579" font-size="10" fill="#000" font-weight="normal" text-anchor="start" textLength="51.9" lengthAdjust="spacingAndGlyphs" stroke="#000" stroke-width="0.25">16 Feb 2022</text>
<rect x="836" y="567" width="1" height="3" fill="#000"/>
<text x="835" y="579" font-size="10" fill="#000" font-weight="normal" text-anchor="start" textLength="46.8" lengthAdjust="spacingAndGlyphs" stroke="#000" stroke-width="0.25">7 Mar 2022</text>
<rect x="900" y="567" width="1" height="3" fill="#000"/>
<text x="899" y="579" font-size="10" fill="#000" font-weight="normal" text-anchor="start" textLength="51.9" lengthAdjust="spacingAndGlyphs" stroke="#000" stroke-width="0.25">25 Mar 2022</text>
<rect x="0" y="587" width="1206" height="1" fill="#e3e3e3"/>
<rect x="0" y="589" width="1206" height="1" fill="#000"/>
<rect x="0" y="590" width="1206" height="19" fill="#f0f0f0"/>
<rect x="0" y="609" width="1206" height="1" fill="#ffffff"/>
<rect x="0" y="610" width="1206" height="3" fill="#f0f0f0"/>
<rect x="0" y="613" width="1206" height="1" fill="#a0a0a0"/>
<rect x="0" y="614" width="1206" height="1" fill="#e6e6e6"/>
<rect x="0" y="590" width="1" height="18" fill="#505050"/>
<rect x="213" y="589" width="108" height="18" fill="#ffffff"/>
<rect x="213" y="589" width="1" height="19" fill="#000"/>
<rect x="320" y="589" width="1" height="19" fill="#000"/>
<rect x="213" y="607" width="108" height="1" fill="#000"/>
<text x="17" y="604" font-size="13" fill="#6a6a6a" font-weight="normal" text-anchor="start" textLength="77" lengthAdjust="spacingAndGlyphs">USDX,Weekly</text>
<text x="117" y="604" font-size="13" fill="#6a6a6a" font-weight="normal" text-anchor="start" textLength="84" lengthAdjust="spacingAndGlyphs">EURUSD-,Daily</text>
<text x="223" y="604" font-size="13" fill="#000" font-weight="normal" text-anchor="start" textLength="87" lengthAdjust="spacingAndGlyphs">AUDUSD-,Daily</text>
<text x="333" y="604" font-size="13" fill="#6a6a6a" font-weight="normal" text-anchor="start" textLength="84" lengthAdjust="spacingAndGlyphs">USDCHF-,Daily</text>
<text x="441" y="604" font-size="13" fill="#6a6a6a" font-weight="normal" text-anchor="start" textLength="84" lengthAdjust="spacingAndGlyphs">USDCAD-,Daily</text>
<text x="549" y="604" font-size="13" fill="#6a6a6a" font-weight="normal" text-anchor="start" textLength="88" lengthAdjust="spacingAndGlyphs">USDCNH-,Daily</text>
<text x="660" y="604" font-size="13" fill="#6a6a6a" font-weight="normal" text-anchor="start" textLength="74" lengthAdjust="spacingAndGlyphs">XAUUSD-,H4</text>
<text x="756" y="604" font-size="13" fill="#6a6a6a" font-weight="normal" text-anchor="start" textLength="56" lengthAdjust="spacingAndGlyphs">UKOil-,H4</text>
<text x="837" y="604" font-size="13" fill="#6a6a6a" font-weight="normal" text-anchor="start" textLength="64" lengthAdjust="spacingAndGlyphs">DJ30-,Daily</text>
<text x="925" y="604" font-size="13" fill="#6a6a6a" font-weight="normal" text-anchor="start" textLength="60" lengthAdjust="spacingAndGlyphs">UK100-,H1</text>
<text x="1009" y="604" font-size="13" fill="#6a6a6a" font-weight="normal" text-anchor="start" textLength="56" lengthAdjust="spacingAndGlyphs">USOil-,H1</text>
<text x="1088" y="604" font-size="13" fill="#6a6a6a" font-weight="normal" text-anchor="start" textLength="53" lengthAdjust="spacingAndGlyphs">HK50-,H1</text>
<rect x="105" y="592" width="1" height="14" fill="#505050"/>
<rect x="429" y="592" width="1" height="14" fill="#505050"/>
<rect x="538" y="592" width="1" height="14" fill="#505050"/>
<rect x="650" y="592" width="1" height="14" fill="#505050"/>
<rect x="745" y="592" width="1" height="14" fill="#505050"/>
<rect x="825" y="592" width="1" height="14" fill="#505050"/>
<rect x="914" y="592" width="1" height="14" fill="#505050"/>
<rect x="998" y="592" width="1" height="14" fill="#505050"/>
<rect x="1078" y="592" width="1" height="14" fill="#505050"/>
<rect x="1153" y="592" width="1" height="14" fill="#505050"/>
<polygon points="1182,598 1185,595 1185,601" fill="#909090" shape-rendering="auto"/>
<polygon points="1204.5,598 1201,594.5 1201,601.5" fill="#909090" shape-rendering="auto"/>
</svg></body></html>
